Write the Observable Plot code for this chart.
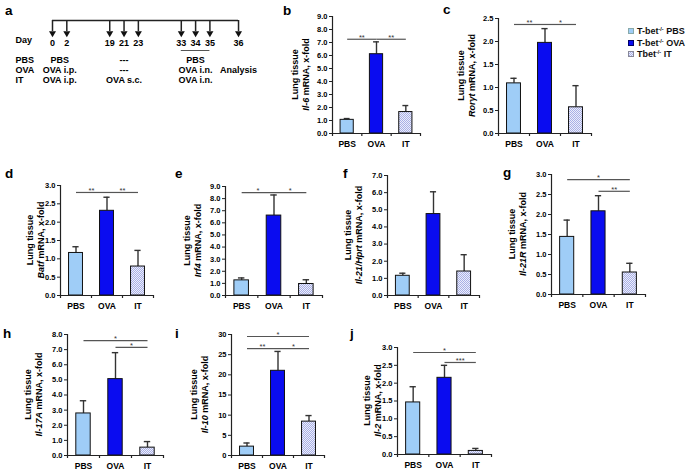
<!DOCTYPE html>
<html><head><meta charset="utf-8">
<script src="https://cdn.jsdelivr.net/npm/d3@7"></script>
<script src="https://cdn.jsdelivr.net/npm/@observablehq/plot@0.6"></script>
<style>
body{margin:0;background:#fff;font-family:"Liberation Sans",Arial,sans-serif}
#fig{position:relative;width:692px;height:475px;overflow:hidden;background:#fff}
.letter{position:absolute;font-weight:bold;font-size:13.5px;line-height:13px;color:#000}
.leg{position:absolute;font-weight:bold;font-size:9px;line-height:11.5px;color:#111;white-space:nowrap}
.leg .sw{display:inline-block;width:6px;height:6px;margin-right:3px;vertical-align:0px;box-sizing:border-box}
.leg sup{font-size:5.5px;vertical-align:3px;line-height:0}
</style></head>
<body><div id="fig"></div>
<script>
// ---------- data ----------
const groups = ["PBS", "OVA", "IT"];

const il6Mean = [1.05, 6.10, 1.65];
const il6Sd   = [0.10, 0.95, 0.50];
const il6Sig  = [{from:"PBS", to:"OVA", y:7.25, label:"**"}, {from:"OVA", to:"IT", y:7.25, label:"**"}];

const rorytMean = [1.09, 1.97, 0.57];
const rorytSd   = [0.11, 0.31, 0.47];
const rorytSig  = [{from:"PBS", to:"OVA", y:2.37, label:"**"}, {from:"OVA", to:"IT", y:2.37, label:"*"}];

const batfMean = [1.16, 2.31, 0.79];
const batfSd   = [0.17, 0.37, 0.44];
const batfSig  = [{from:"PBS", to:"OVA", y:2.81, label:"**"}, {from:"OVA", to:"IT", y:2.81, label:"**"}];

const irf4Mean = [1.25, 6.60, 0.95];
const irf4Sd   = [0.20, 1.70, 0.35];
const irf4Sig  = [{from:"PBS", to:"OVA", y:8.5, label:"*"}, {from:"OVA", to:"IT", y:8.5, label:"*"}];

const il21Mean = [1.15, 4.75, 1.40];
const il21Sd   = [0.15, 1.30, 0.98];
const il21Sig  = [];

const il21rMean = [1.44, 2.08, 0.55];
const il21rSd   = [0.42, 0.39, 0.23];
const il21rSig  = [{from:"PBS", to:"IT", y:2.87, label:"*"}, {from:"OVA", to:"IT", y:2.58, label:"**"}];

const il17Mean = [2.78, 5.05, 0.52];
const il17Sd   = [0.84, 1.75, 0.40];
const il17Sig  = [{from:"PBS", to:"IT", y:7.6, label:"*"}, {from:"OVA", to:"IT", y:7.15, label:"*"}];

const il10Mean = [2.2, 21.0, 8.4];
const il10Sd   = [0.9, 4.8, 1.5];
const il10Sig  = [{from:"PBS", to:"IT", y:29.5, label:"*"}, {from:"PBS", to:"OVA", y:26.5, label:"**"}, {from:"OVA", to:"IT", y:26.5, label:"*"}];

const il2Mean = [1.46, 2.15, 0.10];
const il2Sd   = [0.44, 0.35, 0.07];
const il2Sig  = [{from:"PBS", to:"IT", y:2.86, label:"*"}, {from:"OVA", to:"IT", y:2.58, label:"***"}];

// timeline (panel a)
const days = [0, 2, 19, 21, 23, 33, 34, 35, 36];
const protocolGroups = ["PBS", "OVA", "IT"];
const protocol = [
  {group:"PBS", from:0,  to:2,  text:"PBS"},
  {group:"PBS", from:19, to:23, text:"---"},
  {group:"PBS", from:33, to:35, text:"PBS"},
  {group:"OVA", from:0,  to:2,  text:"OVA i.p."},
  {group:"OVA", from:19, to:23, text:"---"},
  {group:"OVA", from:33, to:35, text:"OVA i.n."},
  {group:"OVA", from:36, to:36, text:"Analysis"},
  {group:"IT",  from:0,  to:2,  text:"OVA i.p."},
  {group:"IT",  from:19, to:23, text:"OVA s.c."},
  {group:"IT",  from:33, to:35, text:"OVA i.n."}
];
const legendItems = [
  {pre:"T-bet", sup:"-/-", post:" PBS"},
  {pre:"T-bet", sup:"-/-", post:" OVA"},
  {pre:"Tbet",  sup:"-/-", post:" IT"}
];

// ---------- style / layout ----------
const FONT = "'Liberation Sans', Arial, sans-serif";
const PBS_COLOR = "#9fcdf7", OVA_COLOR = "#0a0cf0";
const fig = document.getElementById("fig");

const layout = {
  b: {axisX:332, xEnd:420, yTop:16,  yBot:133, t1:-37, t2:-26},
  c: {axisX:498, xEnd:591, yTop:18,  yBot:133, t1:-37, t2:-26},
  d: {axisX:60,  xEnd:153, yTop:185, yBot:295, t1:-30, t2:-19},
  e: {axisX:225, xEnd:322, yTop:186, yBot:295, t1:-38, t2:-27},
  f: {axisX:387, xEnd:479, yTop:175, yBot:295, t1:-39, t2:-28},
  g: {axisX:551, xEnd:645, yTop:174, yBot:294, t1:-39, t2:-28},
  h: {axisX:67,  xEnd:163, yTop:334, yBot:455, t1:-39, t2:-28},
  i: {axisX:231, xEnd:324, yTop:334, yBot:455, t1:-37, t2:-26},
  j: {axisX:397, xEnd:491, yTop:347, yBot:454, t1:-30, t2:-19}
};

function place(svg, left, top) {
  svg.style.position = "absolute";
  svg.style.left = left + "px";
  svg.style.top = top + "px";
  fig.appendChild(svg);
}

function addPattern(svg, id) {
  const defs = d3.select(svg).insert("defs", ":first-child");
  const p = defs.append("pattern").attr("id", id).attr("patternUnits", "userSpaceOnUse")
    .attr("width", 2).attr("height", 2);
  p.append("rect").attr("width", 2).attr("height", 2).attr("fill", "#eceefb");
  p.append("rect").attr("width", 1).attr("height", 1).attr("fill", "#a9b0e6");
  p.append("rect").attr("x", 1).attr("y", 1).attr("width", 1).attr("height", 1).attr("fill", "#a9b0e6");
}

function barPanel(id, gene, rest, means, sds, sig, max, step, fmt) {
  const L = layout[id];
  const mL = 46, mR = 6, mT = 10, mB = 24;
  const W = L.xEnd - L.axisX, H = L.yBot - L.yTop;
  const rows = groups.map((g, i) => ({g, i, m: means[i], top: means[i] + sds[i]}));
  const sigRows = sig.map(s => ({...s, i1: groups.indexOf(s.from), i2: groups.indexOf(s.to)}));
  const patId = "pat-" + id;
  const hw = 0.225, cap = 0.1;
  const ticks = d3.range(0, max + step / 2, step);
  const svg = Plot.plot({
    width: W + mL + mR, height: H + mT + mB,
    marginLeft: mL, marginRight: mR, marginTop: mT, marginBottom: mB,
    style: {background: "none", fontFamily: FONT, overflow: "visible", color: "#000"},
    x: {domain: [-0.5, 2.5], axis: null},
    y: {domain: [0, max], axis: null},
    color: {type: "ordinal", domain: groups, range: [PBS_COLOR, OVA_COLOR, `url(#${patId})`]},
    marks: [
      Plot.ruleX(rows, {x: "i", y1: "m", y2: "top", stroke: "#333", strokeWidth: 1.4}),
      Plot.ruleY(rows, {y: "top", x1: d => d.i - cap, x2: d => d.i + cap, stroke: "#333", strokeWidth: 1.4}),
      Plot.rectY(rows, {x1: d => d.i - hw, x2: d => d.i + hw, y1: 0, y2: "m", fill: "g", stroke: "#111", strokeWidth: 1}),
      Plot.ruleY([0], {stroke: "#222", strokeWidth: 1.2}),
      Plot.ruleX([-0.5], {y1: 0, y2: max, stroke: "#222", strokeWidth: 1.2}),
      Plot.ruleX([-0.5, 0.5, 1.5, 2.5], {y1: 0, y2: 0, insetBottom: -3, stroke: "#222", strokeWidth: 1.2}),
      Plot.axisY({ticks, tickFormat: d3.format(fmt), tickSize: 3, tickPadding: 2, fontSize: 7.5, fontWeight: "bold", label: null, stroke: "#222"}),
      Plot.axisX({ticks: [0, 1, 2], tickFormat: i => groups[i], tickSize: 0, tickPadding: 7, fontSize: 8.5, fontWeight: "bold", label: null}),
      Plot.link(sigRows, {x1: "i1", x2: "i2", y1: "y", y2: "y", stroke: "#555", strokeWidth: 1.2}),
      Plot.text(sigRows, {x: d => (d.i1 + d.i2) / 2, y: "y", text: "label", dy: -2, fontSize: 7.5, fill: "#333"})
    ]
  });
  addPattern(svg, patId);
  const g = d3.select(svg).append("g").attr("font-family", FONT).attr("fill", "#000");
  const cy = mT + H / 2;
  g.append("text").attr("transform", `translate(${mL + L.t1},${cy}) rotate(-90)`)
    .attr("text-anchor", "middle").attr("dy", "0.35em").attr("font-size", 9).attr("font-weight", "bold").text("Lung tissue");
  const t2 = g.append("text").attr("transform", `translate(${mL + L.t2},${cy}) rotate(-90)`)
    .attr("text-anchor", "middle").attr("dy", "0.35em").attr("font-size", 9).attr("font-weight", "bold");
  t2.append("tspan").attr("font-style", "italic").text(gene);
  t2.append("tspan").text(rest);
  place(svg, L.axisX - mL, L.yTop - mT);
}

// ---------- panel a: timeline ----------
(function timeline() {
  const slotOf = d => ({0:0, 2:1, 19:4, 21:5, 23:6, 33:9, 34:10, 35:11, 36:13})[d];
  const yRows = ["line", "stem", "Day", "under", ...protocolGroups];
  const svg = Plot.plot({
    width: 280, height: 100, marginLeft: 15, marginRight: 0, marginTop: 18, marginBottom: 18,
    style: {background: "none", fontFamily: FONT, overflow: "visible", color: "#000"},
    x: {domain: [-37 / 14.31, 228 / 14.31], axis: null},
    y: {type: "point", domain: yRows, padding: 0, axis: null},
    marks: [
      Plot.ruleY([0], {y: () => "line", x1: () => slotOf(days[0]), x2: () => slotOf(days[days.length - 1]), stroke: "#222", strokeWidth: 1.5}),
      Plot.ruleX(days, {x: slotOf, y1: () => "line", y2: () => "stem", insetBottom: -1, stroke: "#222", strokeWidth: 1.5}),
      Plot.dot(days, {x: slotOf, y: () => "stem", symbol: "triangle", r: 2.6, rotate: 180, dy: 2.8, fill: "#111", stroke: "none"}),
      Plot.text(days, {x: slotOf, y: () => "Day", text: d => String(d), dy: 3, fontSize: 9, fontWeight: "bold"}),
      Plot.text(["Day", ...protocolGroups], {y: d => d, text: d => d, frameAnchor: "left", textAnchor: "start", fontSize: 9, fontWeight: "bold"}),
      Plot.ruleY([0], {y: () => "under", x1: () => slotOf(33), x2: () => slotOf(35), stroke: "#555", strokeWidth: 1}),
      Plot.text(protocol, {x: d => (slotOf(d.from) + slotOf(d.to)) / 2, y: "group", text: "text", fontSize: 9, fontWeight: "bold"})
    ]
  });
  place(svg, 0, 0);
})();

// ---------- bar panels ----------
barPanel("b", "Il-6", " mRNA, x-fold", il6Mean, il6Sd, il6Sig, 9, 1, ".1f");
barPanel("c", "Rorγt", " mRNA, x-fold", rorytMean, rorytSd, rorytSig, 2.5, 0.5, ".1f");
barPanel("d", "Batf", " mRNA, x-fold", batfMean, batfSd, batfSig, 3, 0.5, ".1f");
barPanel("e", "Irf4", " mRNA, x-fold", irf4Mean, irf4Sd, irf4Sig, 9, 1, ".1f");
barPanel("f", "Il-21/Hprt", " mRNA, x-fold", il21Mean, il21Sd, il21Sig, 7, 1, ".1f");
barPanel("g", "Il-21R", " mRNA, x-fold", il21rMean, il21rSd, il21rSig, 3, 0.5, ".1f");
barPanel("h", "Il-17A", " mRNA, x-fold", il17Mean, il17Sd, il17Sig, 8, 1, ".1f");
barPanel("i", "Il-10", " mRNA, x-fold", il10Mean, il10Sd, il10Sig, 30, 5, "d");
barPanel("j", "Il-2", " mRNA, x-fold", il2Mean, il2Sd, il2Sig, 3, 0.5, ".1f");

// ---------- panel letters ----------
const letters = [
  ["a", 5, 15], ["b", 283, 15], ["c", 443, 14], ["d", 5, 178], ["e", 175, 178],
  ["f", 343, 178], ["g", 503, 177], ["h", 3, 338], ["i", 175, 338], ["j", 350, 338]
];
for (const [t, x, base] of letters) {
  const el = document.createElement("div");
  el.className = "letter";
  el.style.left = x + "px";
  el.style.top = (base - 11) + "px";
  el.textContent = t;
  fig.appendChild(el);
}

// ---------- legend ----------
const swatches = [
  `background:${PBS_COLOR};border:1px solid #8aa`,
  `background:${OVA_COLOR};border:1px solid #006`,
  `background:repeating-conic-gradient(#a9b0e6 0% 25%, #eceefb 0% 50%) 0 0/2px 2px;border:1px solid #889`
];
const leg = document.createElement("div");
leg.className = "leg";
leg.style.left = "628px";
leg.style.top = "26px";
leg.innerHTML = legendItems.map((d, i) =>
  `<div><span class="sw" style="${swatches[i]}"></span>${d.pre}<sup>${d.sup}</sup>${d.post}</div>`).join("");
fig.appendChild(leg);
</script>
</body></html>
